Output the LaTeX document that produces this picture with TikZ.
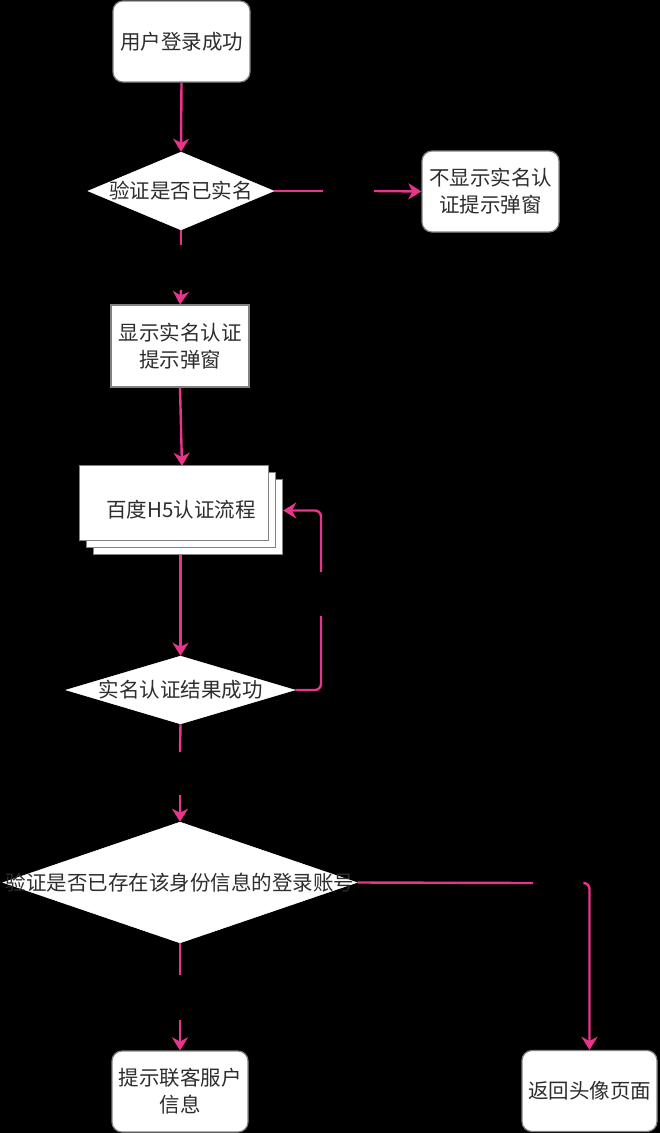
\documentclass[tikz,border=0pt]{standalone}
\usepackage{fontspec}
\newfontfamily\cjk{Noto Sans CJK SC}
\usetikzlibrary{shapes.geometric,arrows.meta}
\definecolor{pinkline}{RGB}{232,52,138}
\definecolor{txtgray}{RGB}{45,45,45}
\definecolor{bordergray}{RGB}{130,130,130}
\tikzset{
  x=1pt,y=-1pt,
  lbl/.style={text=txtgray,font=\cjk\fontsize{20.5}{27}\selectfont,align=center},
  rbox/.style={lbl,draw=bordergray,line width=1.2pt,fill=white,rounded corners=10pt,minimum width=137pt,minimum height=81pt,inner sep=0pt},
  sbox/.style={lbl,draw=bordergray,line width=1.2pt,fill=white,minimum width=138pt,minimum height=82pt,inner sep=0pt},
  dia/.style={diamond,draw=white,fill=white,inner sep=0pt,line width=0.5pt},
  conn/.style={draw=pinkline,line width=2.4pt},
  arr/.style={conn,-{Stealth[length=13pt,width=16pt,inset=4pt]}},
}
\begin{document}
\begin{tikzpicture}
\useasboundingbox[fill=black] (0,0) rectangle (660,1133);

% nodes
\node[rbox] (b1) at (181.5,41.5) {用户登录成功};
\node[dia,minimum width=186pt,minimum height=78pt,label={[lbl]center:验证是否已实名}] (d1) at (181,191) {};
\node[rbox] (b2) at (490.5,191.5) {不显示实名认\\证提示弹窗};
\node[sbox] (b3) at (180,346) {显示实名认证\\提示弹窗};

\node[minimum width=203pt,minimum height=89pt,inner sep=0pt] (h5) at (181.5,510.5) {};
\draw[draw=bordergray,line width=1.2pt,fill=white] ([shift={(14,14)}]h5.north west) rectangle ++(189,75);
\draw[draw=bordergray,line width=1.2pt,fill=white] ([shift={(7,7)}]h5.north west) rectangle ++(189,75);
\draw[draw=bordergray,line width=1.2pt,fill=white] (h5.north west) rectangle ++(189,75);
\node[lbl] (h5t) at (181,510) {百度H5认证流程};

\node[dia,minimum width=229pt,minimum height=68pt,label={[lbl]center:实名认证结果成功}] (d2) at (180.5,690) {};
\node[dia,minimum width=354pt,minimum height=121pt,label={[lbl]center:验证是否已存在该身份信息的登录账号}] (d3) at (180,882.5) {};
\node[rbox,minimum width=136pt] (b5) at (180,1091.5) {提示联客服户\\信息};
\node[rbox,minimum width=135pt] (b6) at (589.5,1091) {返回头像页面};

% gap coordinates
\coordinate (g1a) at (323,191);
\coordinate (g1b) at (374,191);
\coordinate (g2a) at (181,245);
\coordinate (g2b) at (181,290);
\coordinate (g3a) at (321,616);
\coordinate (g3b) at (321,572);
\coordinate (g4a) at (180,752);
\coordinate (g4b) at (180,795);
\coordinate (g5a) at (533,883);
\coordinate (g5b) at (584,883);
\coordinate (g6a) at (180,975);
\coordinate (g6b) at (180,1020);

% connectors
\draw[arr] (b1.south) -- (d1.north);
\draw[conn] (d1.east) -- (g1a);
\draw[arr] (g1b) -- (b2.west);
\draw[conn] (d1.south) -- (g2a);
\draw[arr] (g2b) -- (b3.north);
\draw[arr] (b3.south) -- ([xshift=0.5pt]h5.north);
\draw[arr] ([xshift=-1pt]h5.south) -- (d2.north);
\draw[conn,rounded corners=6pt] (d2.east) -| (g3a);
\draw[arr,rounded corners=6pt] (g3b) |- (h5.east);
\draw[conn] (d2.south) -- (g4a);
\draw[arr] (g4b) -- (d3.north);
\draw[conn] (d3.east) -- (g5a);
\draw[arr,rounded corners=6pt] (g5b) -| (b6.north);
\draw[conn] (d3.south) -- (g6a);
\draw[arr] (g6b) -- (b5.north);
\end{tikzpicture}
\end{document}
